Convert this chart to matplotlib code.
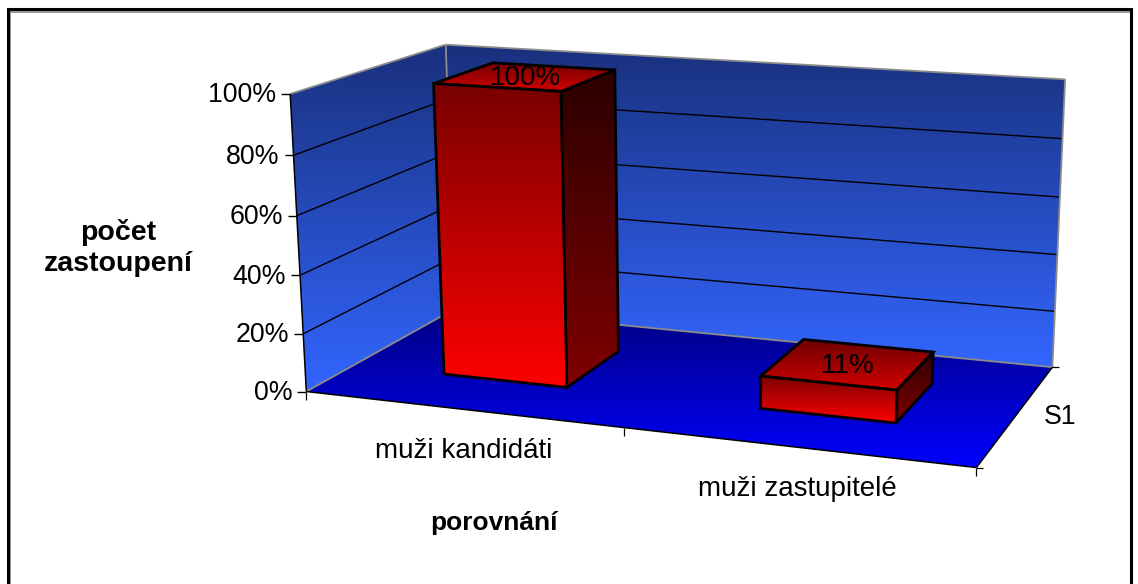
import numpy as np
import matplotlib
matplotlib.use("Agg")
import matplotlib.pyplot as plt
from matplotlib.colors import to_rgb
from matplotlib.patches import Polygon

categories = ["muži kandidáti", "muži zastupitelé"]
values = [100, 11]
value_labels = ["100%", "11%"]
value_ticks = [0, 20, 40, 60, 80, 100]
value_tick_labels = ["0%", "20%", "40%", "60%", "80%", "100%"]
series_name = "S1"

plt.rcParams['font.family'] = ['Liberation Sans', 'DejaVu Sans']

# corners of the 3d box: (category pos, depth, value) -> picture pixel
box_world = [(0, 0, 0), (0, 0, 100), (0, 1, 0), (0, 1, 100), (2, 1, 0), (2, 1, 100), (2, 0, 0)]
box_pixel = [(306, 391), (290, 95), (455, 309), (446, 44), (1052, 368), (1065, 79), (977, 467)]

# solve the camera matrix from the corners
rows = []
rhs = []
for (wx, wy, wz), (px, py) in zip(box_world, box_pixel):
    rows.append([wx, wy, wz, 1, 0, 0, 0, 0, -px * wx, -px * wy, -px * wz])
    rhs.append(px)
    rows.append([0, 0, 0, 0, wx, wy, wz, 1, -py * wx, -py * wy, -py * wz])
    rhs.append(py)
cam = np.append(np.linalg.lstsq(np.array(rows, float), np.array(rhs, float), rcond=None)[0], 1).reshape(3, 4)


def proj(x, d, z):
    u = cam @ np.array([x, d, z, 1.0])
    return u[0] / u[2], u[1] / u[2]


def face(ax, pts, top, bottom, edge=None, lw=0, z=2):
    # polygon filled with a vertical gradient
    pts = np.array(pts)
    t = np.linspace(0, 1, 256)[:, None]
    img = (1 - t)[:, :, None] * np.array(to_rgb(top)) + t[:, :, None] * np.array(to_rgb(bottom))
    im = ax.imshow(img, extent=(pts[:, 0].min(), pts[:, 0].max(), pts[:, 1].max(), pts[:, 1].min()),
                   aspect='auto', zorder=z, interpolation='bilinear')
    poly = Polygon(pts, closed=True, transform=ax.transData, facecolor='none', edgecolor='none')
    ax.add_patch(poly)
    im.set_clip_path(poly)
    if edge:
        ax.add_patch(Polygon(pts, closed=True, facecolor='none', edgecolor=edge, linewidth=lw,
                             joinstyle='miter', zorder=z + 0.1))


fig = plt.figure(figsize=(11.38, 5.84), dpi=100)
ax = fig.add_axes([0, 0, 1, 1])
ax.axis('off')

# walls and floor
face(ax, [proj(0, 0, 0), proj(0, 0, 100), proj(0, 1, 100), proj(0, 1, 0)], '#19307c', '#3366ff')
face(ax, [proj(0, 1, 0), proj(0, 1, 100), proj(2, 1, 100), proj(2, 1, 0)], '#19307c', '#3366ff')
face(ax, [proj(0, 0, 0), proj(0, 1, 0), proj(2, 1, 0), proj(2, 0, 0)], '#000080', '#0000ff')


def seg(a, b, color='black', lw=1.0, z=3):
    ax.plot([a[0], b[0]], [a[1], b[1]], color=color, lw=lw, zorder=z, solid_capstyle='butt')


# gridlines
for v in value_ticks[1:-1]:
    seg(proj(0, 0, v), proj(0, 1, v))
    seg(proj(0, 1, v), proj(2, 1, v))

# gray wall outline
for a, b in [((0, 0, 100), (0, 1, 100)), ((0, 1, 100), (2, 1, 100)), ((0, 1, 100), (0, 1, 0)),
             ((2, 1, 100), (2, 1, 0)), ((0, 0, 0), (0, 1, 0)), ((0, 1, 0), (2, 1, 0))]:
    seg(proj(*a), proj(*b), color='#8c8c8c', lw=1.3)

# axis lines
seg(proj(0, 0, 0), proj(0, 0, 100), lw=1.1, z=4)
seg(proj(0, 0, 0), proj(2, 0, 0), lw=1.1, z=4)
seg(proj(2, 0, 0), proj(2, 1, 0), lw=1.1, z=4)

# ticks and tick labels
for v, lab in zip(value_ticks, value_tick_labels):
    px, py = proj(0, 0, v)
    seg((px - 9, py), (px, py), lw=1.0, z=4)
    ax.text(px - 14, py + 1.5, lab, ha='right', va='center', fontsize=19.3, color='black')
for c in range(len(categories) + 1):
    px, py = proj(c, 0, 0)
    seg((px, py), (px, py + 8), lw=0.9, z=4)
for c, lab in enumerate(categories):
    px, py = proj(c + 0.5, 0, 0)
    ax.text(px + 2, py + 42, lab, ha='center', va='center', fontsize=20, color='black')
for d in [0, 1]:
    px, py = proj(2, d, 0)
    seg((px, py), (px + 7, py), lw=0.9, z=4)
px, py = proj(2, 0.5, 0)
ax.text(px + 27, py + 3, series_name, ha='left', va='center', fontsize=19.2, color='black')

# bars
half_w = 0.2
d0, d1 = 0.30, 0.71
for c, (val, lab) in enumerate(zip(values, value_labels)):
    x0, x1 = c + 0.5 - half_w, c + 0.5 + half_w
    face(ax, [proj(x1, d0, 0), proj(x1, d0, val), proj(x1, d1, val), proj(x1, d1, 0)],
         '#2b0000', '#800000', edge='black', lw=2.0, z=5)
    face(ax, [proj(x0, d0, val), proj(x0, d1, val), proj(x1, d1, val), proj(x1, d0, val)],
         '#700000', '#d00000', edge='black', lw=2.0, z=5.2)
    face(ax, [proj(x0, d0, 0), proj(x0, d0, val), proj(x1, d0, val), proj(x1, d0, 0)],
         '#780000', '#ff0000', edge='black', lw=2.0, z=5.4)
    px, py = proj(c + 0.5, 0.5, val)
    ax.text(px, py + 1.5, lab, ha='center', va='center', fontsize=20, color='black', zorder=7)

# axis titles
ax.text(118, 248, "počet\nzastoupení", ha='center', va='center', fontsize=20.5, fontweight='bold',
        linespacing=1.27)
ax.text(494, 523, "porovnání", ha='center', va='center', fontsize=19, fontweight='bold')

# chart frame, open at the bottom
ax.plot([10.3, 10.3, 1130], [584, 12, 12], color='#9a9a9a', lw=1.4, zorder=8)
ax.plot([8.2, 8.2, 1131.5, 1131.5], [584, 9.3, 9.3, 584], color='black', lw=2.2, zorder=9,
        solid_joinstyle='miter')

ax.set_xlim(0, 1138)
ax.set_ylim(584, 0)
fig.savefig("out.png", dpi=100)
